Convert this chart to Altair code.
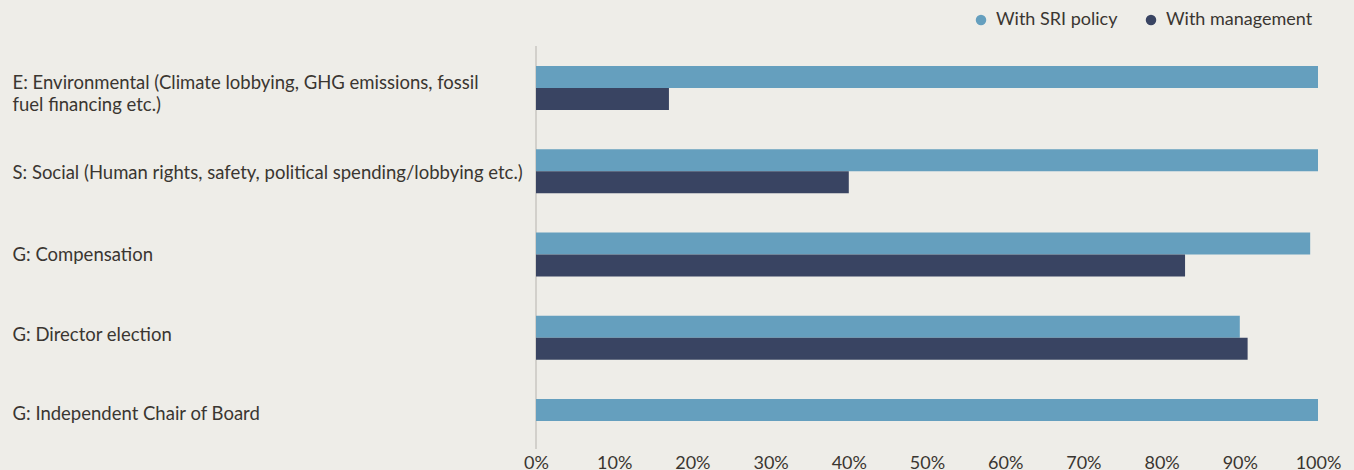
import altair as alt
import pandas as pd

categories = [
    "E: Environmental (Climate lobbying, GHG emissions, fossil|fuel financing etc.)",
    "S: Social (Human rights, safety, political spending/lobbying etc.)",
    "G: Compensation",
    "G: Director election",
    "G: Independent Chair of Board",
]
series = ["With SRI policy", "With management"]
sri_values = [100, 100, 99, 90, 100]
mgmt_values = [17, 40, 83, 91, 0]
x_ticks = [0, 10, 20, 30, 40, 50, 60, 70, 80, 90, 100]
colors = ["#659FBE", "#394462"]

rows = []
for c, s, m in zip(categories, sri_values, mgmt_values):
    rows.append({"cat": c, "series": series[0], "value": s})
    rows.append({"cat": c, "series": series[1], "value": m})
df = pd.DataFrame(rows)

FONT = "Lato"
TXT = "#3a3631"

label_offset = {
    "condition": [
        {"test": "indexof(datum.value, 'E:') == 0", "value": -5},
        {"test": "indexof(datum.value, 'S:') == 0", "value": 2},
        {"test": "indexof(datum.value, 'G: Director') == 0", "value": -3},
        {"test": "indexof(datum.value, 'G: Independent') == 0", "value": -7},
    ],
    "value": 0,
}

bars = alt.Chart(df).mark_bar().encode(
    y=alt.Y(
        "cat:N",
        sort=categories,
        title=None,
        scale=alt.Scale(range=[20, 397], paddingInner=0.4715, paddingOuter=0),
        axis=alt.Axis(
            labelAlign="left",
            labelPadding=524,
            ticks=False,
            domain=False,
            labelExpr="split(datum.label, '|')",
            labelFont=FONT,
            labelFontSize=18.5,
            labelColor=TXT,
            labelLimit=600,
            labelBaseline="middle",
            labelLineHeight=22,
            labelOffset=label_offset,
        ),
    ),
    yOffset=alt.YOffset("series:N", sort=series, scale=alt.Scale(paddingInner=0, paddingOuter=0)),
    x=alt.X(
        "value:Q",
        title=None,
        scale=alt.Scale(domain=[0, 100], nice=False),
        axis=alt.Axis(
            values=x_ticks,
            labelExpr="datum.value + '%'",
            grid=False,
            ticks=False,
            domain=False,
            labelFont=FONT,
            labelFontSize=18,
            labelColor=TXT,
            labelPadding=5,
            labelFlush=False,
        ),
    ),
    color=alt.Color(
        "series:N",
        sort=series,
        scale=alt.Scale(domain=series, range=colors),
        legend=alt.Legend(
            title=None,
            orient="none",
            direction="horizontal",
            legendX=436,
            legendY=-35,
            symbolType="circle",
            symbolSize=110,
            labelFont=FONT,
            labelFontSize=18,
            labelColor=TXT,
            columnPadding=24,
            symbolOffset=0,
            labelOffset=6,
            labelLimit=300,
        ),
    ),
)

axis_line = alt.Chart(df).mark_rule(color="#d2d0cb", strokeWidth=2).encode(
    x=alt.value(0), y=alt.value(0), y2=alt.value(403)
)

chart = alt.layer(axis_line, bars).properties(
    width=782,
    height=403,
    autosize=alt.AutoSizeParams(type="none"),
    padding={"left": 536, "top": 46, "right": 36, "bottom": 21},
    background="#EEEDE8",
).configure_view(stroke=None)

chart.save("out.html", embed_options={"renderer": "svg", "actions": False})
